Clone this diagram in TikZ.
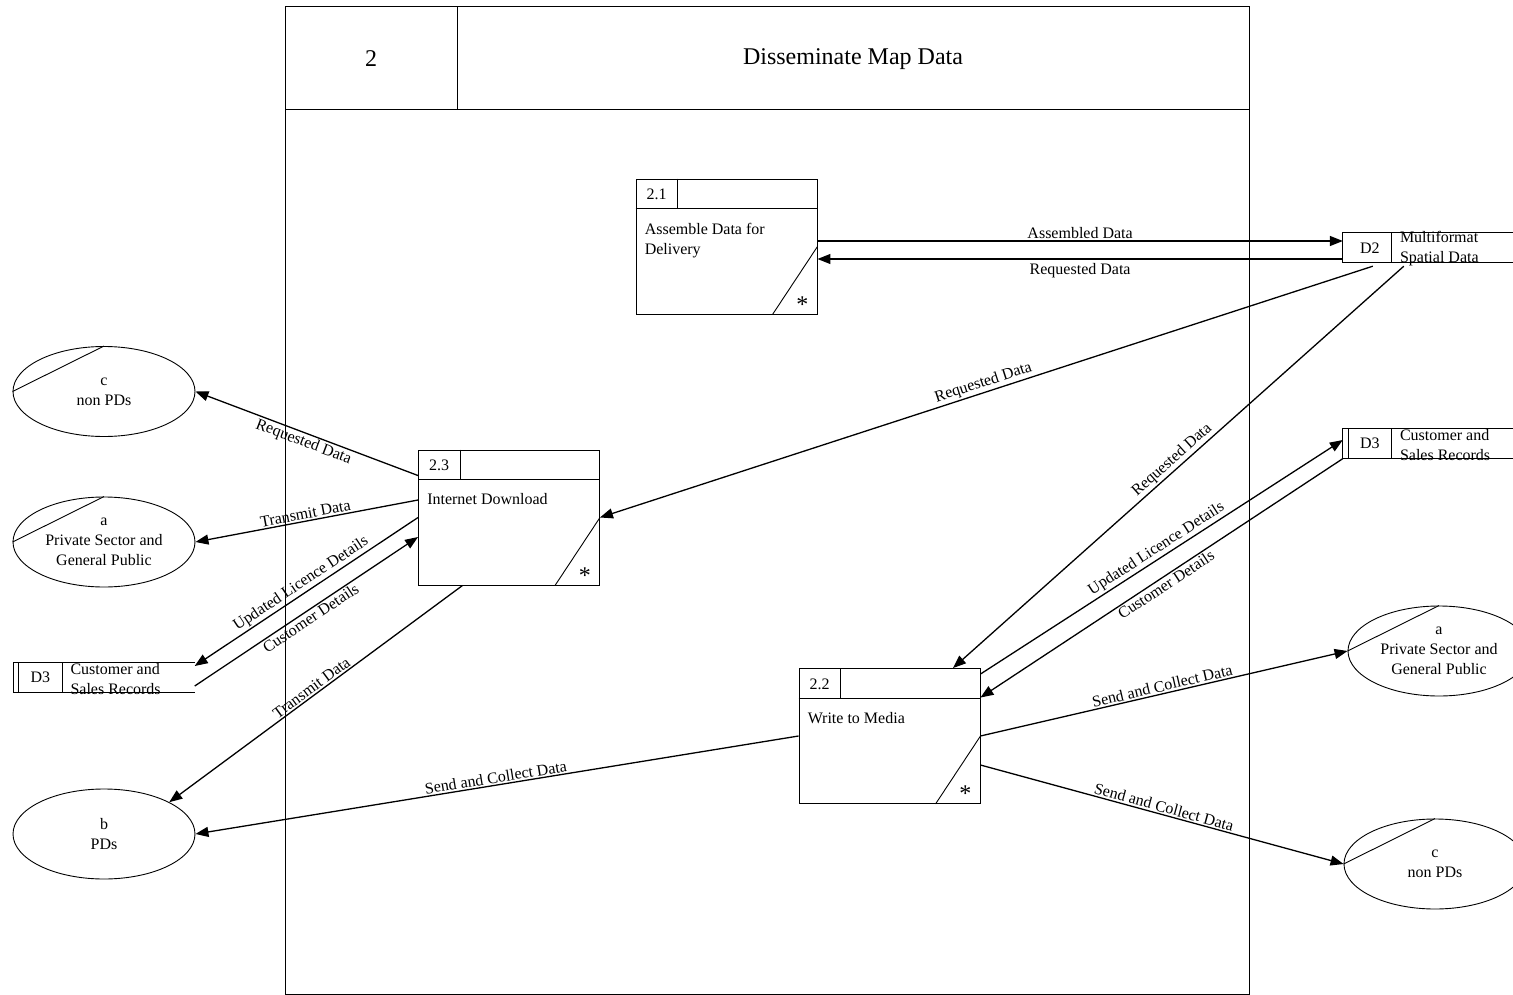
\documentclass[tikz,border=0pt]{standalone}
\usepackage{fontspec}
\setmainfont{Liberation Serif}
\usetikzlibrary{arrows.meta,shapes.geometric,calc}

\newcommand\mkproc[5]{%
  \node[procbox] (#1) at (#2,#3) {};
  \draw[boxline] ($(#1.north west)+(0,30)$) -- ($(#1.north east)+(0,30)$);
  \draw[boxline] ($(#1.north west)+(42,0)$) -- ($(#1.north west)+(42,30)$);
  \node[txt] (#1num) at ($(#1.north west)+(21,16)$) {#4};
  \node[txt,anchor=north west,align=left] (#1title) at ($(#1.north west)+(9,44)$) {#5};
  \draw[boxline] ($(#1.south west)+(137,0)$) -- ($(#1.north east)+(0,68)$);
  \node[inner sep=0pt,font=\fontsize{24}{28}\selectfont] (#1star) at ($(#1.south east)+(-15,-10)$) {*};
}
% name, cx, cy, width, id, label, doubleleft(0/1)
\newcommand\mkstore[7]{%
  \node[storebox,minimum width=#4pt] (#1) at (#2,#3) {};
  \draw[boxline] (#1.north east) -- (#1.north west) -- (#1.south west) -- (#1.south east);
  \draw[boxline] ($(#1.north west)+(49,0)$) -- ($(#1.south west)+(49,0)$);
  \ifnum#7=1 \draw[boxline] ($(#1.north west)+(5.5,0)$) -- ($(#1.south west)+(5.5,0)$);\fi
  \node[txt] (#1id) at ($(#1.west)+(27,0)$) {#5};
  \node[txt,anchor=west,align=left] (#1lbl) at ($(#1.west)+(57,1)$) {#6};
}

\begin{document}
\begin{tikzpicture}[x=1pt,y=-1pt,
  txt/.style={inner sep=0pt,font=\fontsize{16}{20}\selectfont},
  boxline/.style={line width=0.9pt},
  procbox/.style={draw,line width=0.9pt,minimum width=181pt,minimum height=135pt,inner sep=0pt},
  storebox/.style={minimum height=29.5pt,inner sep=0pt},
  ext/.style={draw,ellipse,line width=0.9pt,minimum width=182pt,minimum height=90pt,inner sep=0pt,align=center,font=\fontsize{16}{20}\selectfont},
  flow/.style={line width=1.3pt,-{Triangle[length=13pt,width=10pt]}},
  lbl/.style={sloped,pos=0.5,inner sep=1.5pt,font=\fontsize{16}{20}\selectfont},
]
\useasboundingbox (0,0) rectangle (1513,995);
\fill[white] (0,0) rectangle (1513,995);

% outer frame
\node[draw,line width=0.9pt,minimum width=963.5pt,minimum height=988pt,inner sep=0pt] (frame) at (767.25,500.5) {};
\draw[boxline] ($(frame.north west)+(0,103.5)$) -- ($(frame.north east)+(0,103.5)$);
\draw[boxline] ($(frame.north west)+(172,0)$) -- ($(frame.north west)+(172,103.5)$);
\node[font=\fontsize{24}{28}\selectfont,inner sep=0pt] (fnum) at (371,59) {2};
\node[font=\fontsize{24}{28}\selectfont,inner sep=0pt] (ftitle) at (853,59) {Disseminate Map Data};

% processes
\mkproc{p21}{726.5}{246.5}{2.1}{Assemble Data for\\Delivery}
\mkproc{p23}{509}{517.5}{2.3}{Internet Download}
\mkproc{p22}{889.5}{736}{2.2}{Write to Media}

% data stores
\mkstore{d2}{1428}{247.75}{170}{D2}{Multiformat\\Spatial Data}{0}
\mkstore{d3r}{1428}{443.7}{170}{D3}{Customer and\\Sales Records}{1}
\mkstore{d3l}{104}{677.7}{181}{D3}{Customer and\\Sales Records}{1}

% external entities
\node[ext] (ecl) at (104,391.5) {c\\non PDs};
\node[ext] (eal) at (104,542) {a\\Private Sector and\\General Public};
\node[ext] (eb) at (104,834) {b\\PDs};
\node[ext] (ear) at (1439,651) {a\\Private Sector and\\General Public};
\node[ext] (ecr) at (1435,864) {c\\non PDs};
\draw[boxline] (ecl.west) -- (ecl.north);
\draw[boxline] (eal.west) -- (eal.north);
\draw[boxline] (ear.west) -- (ear.north);
\draw[boxline] (ecr.west) -- (ecr.north);

% flows
\draw[flow] ($(p21.east)+(0,-5.5)$) -- ($(d2.west)+(0,-6.75)$) node[lbl,above]{Assembled Data};
\draw[flow] ($(d2.west)+(0,11.25)$) -- ($(p21.east)+(0,12.5)$) node[lbl,below,yshift=-2pt]{Requested Data};
\draw[flow] ($(d2.south west)+(30,3.5)$) -- (p23.east) node[lbl,above]{Requested Data};
\draw[flow] ($(d2.south west)+(61,3.5)$) -- ($(p22.north)+(63.5,0)$) node[lbl,above]{Requested Data};
\draw[flow] ($(p22.north east)+(0,6)$) -- ($(d3r.west)+(0,-3.7)$) node[lbl,above]{Updated Licence Details};
\draw[flow] (d3r.south west) -- ($(p22.north east)+(0,29.5)$) node[lbl,below]{Customer Details};
\draw[flow] (p22.east) -- (ear.west) node[lbl,above]{Send and Collect Data};
\draw[flow] ($(p22.east)+(0,29)$) -- (ecr.west) node[lbl,above]{Send and Collect Data};
\draw[flow] (p22.west) -- (eb.east) node[lbl,above]{Send and Collect Data};
\draw[flow] ($(p23.north west)+(0,26)$) -- (ecl.east) node[lbl,below]{Requested Data};
\draw[flow] ($(p23.west)+(0,-17.5)$) -- (eal.east) node[lbl,above]{Transmit Data};
\draw[flow] (p23.west) -- ($(d3l.east)+(0,-11.7)$) node[lbl,above]{Updated Licence Details};
\draw[flow] ($(d3l.east)+(0,8.3)$) -- ($(p23.west)+(0,19.5)$) node[lbl,below]{Customer Details};
\draw[flow] ($(p23.south west)+(44.5,0)$) -- (eb.26) node[lbl,above]{Transmit Data};
\end{tikzpicture}
\end{document}
